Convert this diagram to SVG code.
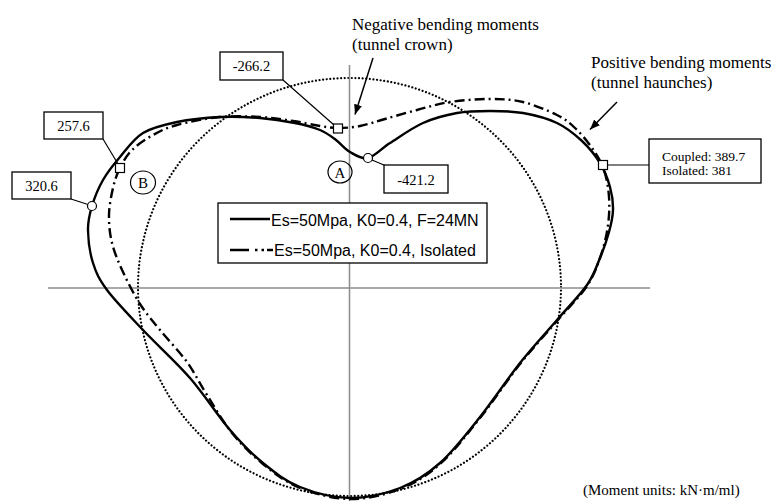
<svg xmlns="http://www.w3.org/2000/svg" width="772" height="502" viewBox="0 0 772 502">
<style>
.ax{stroke:#8c8c8c;stroke-width:1.5;fill:none}
.circ{fill:none;stroke:#000;stroke-width:2.2;stroke-dasharray:0.01 3.6;stroke-linecap:round}
.solid{fill:none;stroke:#000;stroke-width:2.4;stroke-linejoin:round}
.dd{fill:none;stroke:#000;stroke-width:2.4;stroke-dasharray:10 4 2 4}
.box{fill:#fff;stroke:#000;stroke-width:1.3}
.mk{fill:#fff;stroke:#000;stroke-width:1.2}
.lead{stroke:#000;stroke-width:1.2;fill:none}
.arr{stroke:#000;stroke-width:1.5;fill:none}
.t{font-family:"Liberation Serif","Times New Roman",serif;fill:#000}
.s{font-family:"Liberation Sans",Arial,sans-serif;fill:#000;font-size:16px}
.n{font-size:14.5px;text-anchor:middle}
.ann{font-size:17px}
</style>
<defs>
<marker id="ah" viewBox="0 0 10 8" refX="10" refY="4" markerWidth="10" markerHeight="8" markerUnits="userSpaceOnUse" orient="auto">
<path d="M0,0 L10,4 L0,8 Z" fill="#000"/>
</marker>
</defs>
<rect width="772" height="502" fill="#fff"/>

<g id="reference">
<ellipse class="circ" cx="349.5" cy="287" rx="211.5" ry="209"/>
<line class="ax" x1="48" y1="288" x2="650" y2="288"/>
<line class="ax" x1="349.5" y1="65" x2="349.5" y2="501"/>
</g>

<g id="curve-coupled">
<path class="solid" d="M368,158 C374.7,156.5 380.8,148.8 390,143 C399.2,137.2 411.8,128 423,123 C434.2,118 445.8,115 457,113 C468.2,111 479,111 490,111 C501,111 511.8,111 523,113 C534.2,115 547.2,118.3 557,123 C566.8,127.7 574.8,134.3 582,141 C589.2,147.7 595.3,155.3 600,163 C604.7,170.7 607.8,179.2 610,187 C612.2,194.8 613.2,202.5 613,210 C612.8,217.5 611.2,224 609,232 C606.8,240 603.7,249.2 600,258 C596.3,266.8 594.2,274.7 587,285 C579.8,295.3 568.2,307 557,320 C545.8,333 532.8,346.8 520,363 C507.2,379.2 493.3,400.3 480,417 C466.7,433.7 453.3,451.2 440,463 C426.7,474.8 415,482.2 400,488 C385,493.8 366.7,498.2 350,498 C333.3,497.8 314.5,492.8 300,487 C285.5,481.2 274.7,472.5 263,463 C251.3,453.5 242.2,444.2 230,430 C217.8,415.8 204.5,394.7 190,378 C175.5,361.3 156.8,344.7 143,330 C129.2,315.3 115.3,301.2 107,290 C98.7,278.8 96.2,273 93,263 C89.8,253 88.2,239.5 88,230 C87.8,220.5 89.5,214.3 92,206 C94.5,197.7 98.3,188.2 103,180 C107.7,171.8 113.3,164.8 120,157 C126.7,149.2 133.5,138.8 143,133 C152.5,127.2 164.2,124.7 177,122 C189.8,119.3 206.2,117.7 220,117 C233.8,116.3 247.5,117 260,118 C272.5,119 285,121 295,123 C305,125 313.2,127.2 320,130 C326.8,132.8 331,136.3 336,140 C341,143.7 344.7,149 350,152 C355.3,155 361.3,159.5 368,158 Z"/>
</g>

<g id="curve-isolated">
<path class="dd" d="M338,128 C344.7,128 352.2,127.5 360,126 C367.8,124.5 375.5,121.7 385,119 C394.5,116.3 406.2,112.8 417,110 C427.8,107.2 437.8,103.8 450,102 C462.2,100.2 477.8,99 490,99 C502.2,99 511.8,99.3 523,102 C534.2,104.7 548.3,110.7 557,115 C565.7,119.3 569.2,122.5 575,128 C580.8,133.5 587.2,141 592,148 C596.8,155 601.2,161.8 604,170 C606.8,178.2 608.3,187.8 609,197 C609.7,206.2 609.3,215.3 608,225 C606.7,234.7 604.5,244.8 601,255 C597.5,265.2 594.3,275 587,286 C579.7,297 568.2,308 557,321 C545.8,334 532.8,347.8 520,364 C507.2,380.2 493.3,401.3 480,418 C466.7,434.7 453.3,452.2 440,464 C426.7,475.8 415,483.2 400,489 C385,494.8 366.7,499.2 350,499 C333.3,498.8 314.5,493.8 300,488 C285.5,482.2 274.3,473.2 263,464 C251.7,454.8 241.3,444.5 232,433 C222.7,421.5 214.5,406.8 207,395 C199.5,383.2 194.8,372.8 187,362 C179.2,351.2 167.8,339.7 160,330 C152.2,320.3 146.2,313.7 140,304 C133.8,294.3 127.7,282.2 123,272 C118.3,261.8 114.3,252.5 112,243 C109.7,233.5 108.8,224.2 109,215 C109.2,205.8 111.2,195.8 113,188 C114.8,180.2 116.8,174.3 120,168 C123.2,161.7 126.5,155.5 132,150 C137.5,144.5 145.5,139.2 153,135 C160.5,130.8 165.8,128 177,125 C188.2,122 206.2,118.3 220,117 C233.8,115.7 247.8,116.3 260,117 C272.2,117.7 283,119.5 293,121 C303,122.5 312.5,124.8 320,126 C327.5,127.2 331.3,128 338,128 Z"/>
</g>

<g id="connectors">
<line class="lead" x1="103" y1="139" x2="118" y2="164"/>
<line class="lead" x1="71" y1="199" x2="88" y2="204.5"/>
<line class="lead" x1="283" y1="80" x2="334" y2="125"/>
<line class="lead" x1="372" y1="160" x2="385" y2="165.5"/>
<line class="lead" x1="607" y1="165" x2="649" y2="165"/>
<line class="arr" x1="373" y1="58" x2="355" y2="114.5" marker-end="url(#ah)"/>
<line class="arr" x1="617" y1="102" x2="590" y2="129.5" marker-end="url(#ah)"/>
</g>

<g id="markers">
<circle class="mk" cx="92" cy="206" r="4.5"/>
<rect class="mk" x="115.5" y="163.5" width="9" height="9"/>
<rect class="mk" x="333.5" y="124" width="9" height="9"/>
<circle class="mk" cx="368" cy="158" r="4.5"/>
<rect class="mk" x="598.5" y="160.5" width="9" height="9"/>
</g>

<g id="label-257">
<rect class="box" x="44" y="112" width="59" height="27"/>
<text class="t n" x="73.5" y="131">257.6</text>
</g>
<g id="label-320">
<rect class="box" x="12" y="172" width="59" height="27"/>
<text class="t n" x="41.5" y="191">320.6</text>
</g>
<g id="label-266">
<rect class="box" x="220" y="52" width="63" height="28"/>
<text class="t n" x="251.5" y="71">-266.2</text>
</g>
<g id="label-421">
<rect class="box" x="384" y="165" width="64" height="28"/>
<text class="t n" x="416" y="184.5">-421.2</text>
</g>
<g id="label-haunch">
<rect class="box" x="649" y="139" width="112" height="44"/>
<text class="t" x="662" y="160.5" font-size="13.5">Coupled: 389.7</text>
<text class="t" x="662" y="174.5" font-size="13.5">Isolated: 381</text>
</g>

<g id="point-A">
<ellipse cx="340" cy="172" rx="12" ry="11" fill="none" stroke="#000" stroke-width="1.2"/>
<text class="t" x="340" y="177.5" font-size="15" text-anchor="middle">A</text>
</g>
<g id="point-B">
<ellipse cx="143" cy="182.5" rx="12.5" ry="11.5" fill="none" stroke="#000" stroke-width="1.2"/>
<text class="t" x="143" y="188" font-size="15" text-anchor="middle">B</text>
</g>

<g id="note-negative">
<text class="t ann" x="352" y="30">Negative bending moments</text>
<text class="t ann" x="352" y="50">(tunnel crown)</text>
</g>
<g id="note-positive">
<text class="t ann" x="591" y="68">Positive bending moments</text>
<text class="t ann" x="591" y="88">(tunnel haunches)</text>
</g>

<g id="legend">
<rect class="box" x="218" y="203" width="269" height="60"/>
<line x1="230" y1="219" x2="270" y2="219" stroke="#000" stroke-width="2.5"/>
<text class="s" x="271" y="226">Es=50Mpa, K0=0.4, F=24MN</text>
<line x1="230" y1="250" x2="249" y2="250" stroke="#000" stroke-width="2.5"/>
<line x1="255" y1="250" x2="257.5" y2="250" stroke="#000" stroke-width="2.5"/>
<line x1="261.5" y1="250" x2="264" y2="250" stroke="#000" stroke-width="2.5"/>
<line x1="267" y1="250" x2="273" y2="250" stroke="#000" stroke-width="2.5"/>
<text class="s" x="274" y="256">Es=50Mpa, K0=0.4, Isolated</text>
</g>

<g id="units">
<text class="t" x="583" y="495" font-size="15">(Moment units: kN·m/ml)</text>
</g>
</svg>
